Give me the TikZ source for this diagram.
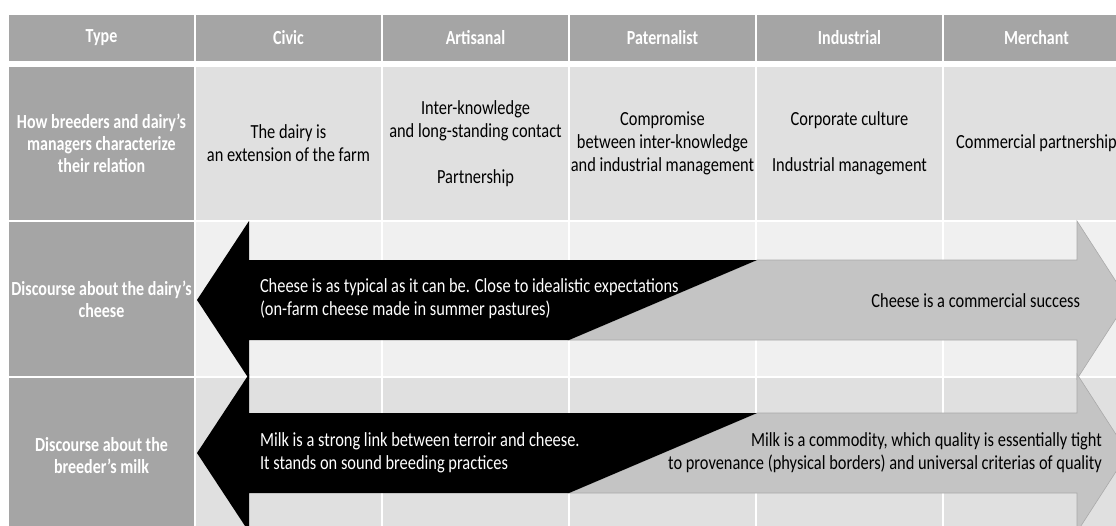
\documentclass[tikz,border=0pt]{standalone}
\usepackage{fontspec}
\setmainfont{Carlito}[FakeStretch=0.82]
\newfontfamily\hdrfont{Carlito}[FakeStretch=0.8]
\definecolor{hdr}{RGB}{165,165,165}
\definecolor{bandA}{RGB}{224,224,224}
\definecolor{bandB}{RGB}{240,240,240}
\definecolor{arrgray}{RGB}{196,196,196}
\definecolor{arredge}{RGB}{170,170,170}
\begin{document}
\begin{tikzpicture}[x=1pt,y=-1pt,
  txt/.style={inner sep=0pt, outer sep=0pt, font=\fontsize{20}{23}\selectfont},
  cell/.style={txt, minimum width=185pt, align=center},
  hcell/.style={cell, fill=hdr, text=white, font=\hdrfont\fontsize{20}{22}\selectfont\bfseries},
  acell/.style={cell, fill=bandA, text=black},
  bcell/.style={cell, fill=bandB, text=black},
  blackarrow/.style={fill=black},
  grayarrow/.style={fill=arrgray, draw=arredge, line width=0.6pt, line join=miter},
  wtext/.style={txt, text=white, anchor=west, align=left},
  gtext/.style={txt, text=black, anchor=east, align=right}]
\useasboundingbox (0,0) rectangle (1116,525);
\clip (0,0) rectangle (1116,525);
\fill[white] (0,0) rectangle (1116,525);
% header row
\node[hcell, minimum height=46pt] (h0) at (101.5,38) {Type};
\node[hcell, minimum height=46pt] (h1) at (288.5,38) {Civic};
\node[hcell, minimum height=46pt] (h2) at (475.5,38) {Artisanal};
\node[hcell, minimum height=46pt] (h3) at (662.5,38) {Paternalist};
\node[hcell, minimum height=46pt] (h4) at (849.5,38) {Industrial};
\node[hcell, minimum height=46pt] (h5) at (1036.5,38) {Merchant};
% row 1
\node[hcell, minimum height=153pt] (r1c0) at (101.5,143.5) {How breeders and dairy’s\\managers characterize\\their relation};
\node[acell, minimum height=153pt] (r1c1) at (288.5,143.5) {The dairy is\\an extension of the farm};
\node[acell, minimum height=153pt] (r1c2) at (475.5,143.5) {Inter-knowledge\\and long-standing contact\\[23pt]Partnership};
\node[acell, minimum height=153pt] (r1c3) at (662.5,143.5) {Compromise\\between inter-knowledge\\and industrial management};
\node[acell, minimum height=153pt] (r1c4) at (849.5,143.5) {Corporate culture\\[23pt]Industrial management};
\node[acell, minimum height=153pt] (r1c5) at (1036.5,143.5) {Commercial partnership};
% row 2
\node[hcell, minimum height=154pt] (r2c0) at (101.5,299) {Discourse about the dairy’s\\cheese};
\node[bcell, minimum height=154pt] (r2c1) at (288.5,299) {};
\node[bcell, minimum height=154pt] (r2c2) at (475.5,299) {};
\node[bcell, minimum height=154pt] (r2c3) at (662.5,299) {};
\node[bcell, minimum height=154pt] (r2c4) at (849.5,299) {};
\node[bcell, minimum height=154pt] (r2c5) at (1036.5,299) {};
% row 3
\node[hcell, minimum height=155pt] (r3c0) at (101.5,455.5) {Discourse about the\\breeder’s milk};
\node[acell, minimum height=155pt] (r3c1) at (288.5,455.5) {};
\node[acell, minimum height=155pt] (r3c2) at (475.5,455.5) {};
\node[acell, minimum height=155pt] (r3c3) at (662.5,455.5) {};
\node[acell, minimum height=155pt] (r3c4) at (849.5,455.5) {};
\node[acell, minimum height=155pt] (r3c5) at (1036.5,455.5) {};
% arrows, cheese row
\path[grayarrow] (569,340) -- (757,260) -- (1077,260) -- (1077,221) -- (1128,300) -- (1077,379) -- (1077,340) -- cycle;
\path[blackarrow] (757,260) -- (249,260) -- (249,221) -- (197,300) -- (249,379) -- (249,340) -- (569,340) -- cycle;
% arrows, milk row
\path[grayarrow] (569,493) -- (757,413) -- (1077,413) -- (1077,374) -- (1128,453) -- (1077,532) -- (1077,493) -- cycle;
\path[blackarrow] (757,413) -- (249,413) -- (249,374) -- (197,453) -- (249,532) -- (249,493) -- (569,493) -- cycle;
% arrow texts
\node[wtext] (t1) at (260,299) {Cheese is as typical as it can be. Close to idealistic expectations\\(on-farm cheese made in summer pastures)};
\node[gtext] (t2) at (1080,301) {Cheese is a commercial success};
\node[wtext] (t3) at (260,453) {Milk is a strong link between terroir and cheese.\\It stands on sound breeding practices};
\node[gtext] (t4) at (1102,453) {Milk is a commodity, which quality is essentially tight\\to provenance (physical borders) and universal criterias of quality};
\end{tikzpicture}
\end{document}
